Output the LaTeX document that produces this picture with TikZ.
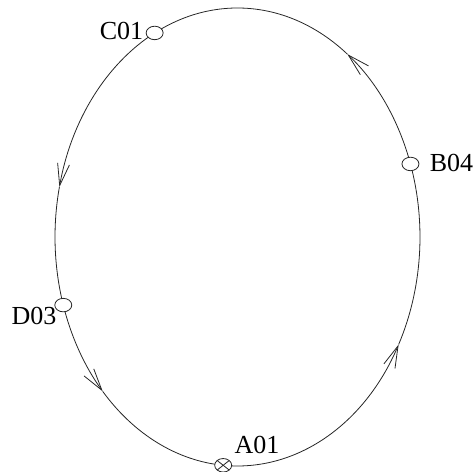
\documentclass[tikz,border=0pt]{standalone}
\usepackage{fontspec}
\setmainfont{Liberation Serif}
\usetikzlibrary{arrows.meta,shapes.geometric}
\begin{document}
\begin{tikzpicture}[x=1pt,y=1pt,
  ring/.style={line width=0.8pt, black!85},
  arr/.style={ring, -{Straight Barb[length=22pt,width=12pt,line width=0.8pt]}},
  mk/.style={draw, black!85, ellipse, fill=white, minimum width=17pt, minimum height=13.5pt, inner sep=0pt, line width=0.8pt},
  lbl/.style={inner sep=0pt, font=\fontsize{26}{30}\selectfont},
  ell/.style={x radius=182.5pt, y radius=229pt}]
\useasboundingbox (0,0) rectangle (475,472);
\coordinate (O) at (237.5,235);
\path (O) ++(18.6:182.5pt and 229pt) coordinate (pB);
\path (O) ++(117:182.5pt and 229pt) coordinate (pC);
\path (O) ++(197.3:182.5pt and 229pt) coordinate (pD);
\path (O) ++(265.5:182.5pt and 229pt) coordinate (pA);
% ellipse in four arcs, arrows counter-clockwise
\draw[arr] (pB) arc[start angle=18.6, end angle=53, ell] coordinate (t1);
\draw[ring] (t1) arc[start angle=53, end angle=117, ell];
\draw[arr] (pC) arc[start angle=117, end angle=167.4, ell] coordinate (t2);
\draw[ring] (t2) arc[start angle=167.4, end angle=197.3, ell];
\draw[arr] (pD) arc[start angle=197.3, end angle=222.4, ell] coordinate (t3);
\draw[ring] (t3) arc[start angle=222.4, end angle=265.5, ell];
\draw[arr] (pA) arc[start angle=265.5, end angle=332, ell] coordinate (t4);
\draw[ring] (t4) arc[start angle=332, end angle=378.6, ell];
% markers
\node[mk] (B04) at (pB) {};
\node[mk] (C01) at (pC) {};
\node[mk] (D03) at (pD) {};
\node[mk, path picture={\draw[black!85, line width=0.8pt]
   (path picture bounding box.north west) -- (path picture bounding box.south east)
   (path picture bounding box.north east) -- (path picture bounding box.south west);}] (A01) at (pA) {};
% labels
\node[lbl] (lC) at (121.5,441) {C01};
\node[lbl] (lB) at (451.5,309) {B04};
\node[lbl] (lD) at (34,156) {D03};
\node[lbl] (lA) at (257,27) {A01};
\end{tikzpicture}
\end{document}
